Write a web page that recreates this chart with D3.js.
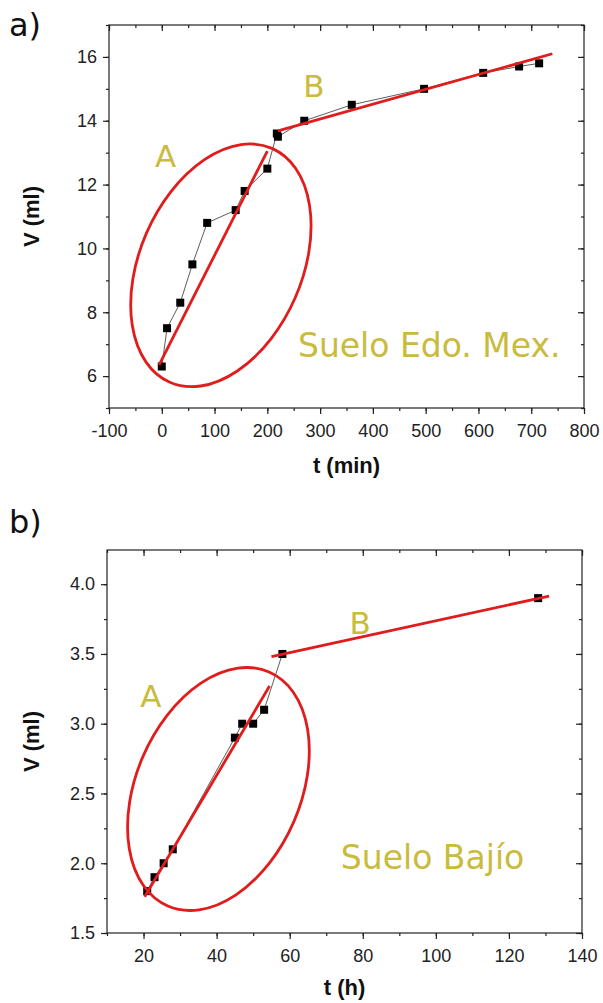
<!DOCTYPE html>
<html><head><meta charset="utf-8">
<script src="https://cdn.jsdelivr.net/npm/d3@7"></script>
<style>
body{margin:0;background:#fff;}
svg{display:block;}
</style></head>
<body>
<script>
// ---- Panel a: Suelo Edo. Mex. ----
const tMinA = [0, 10, 35, 58, 86, 140, 157, 200, 218, 220, 270, 360, 497, 609, 677, 715];
const volA  = [6.3, 7.5, 8.3, 9.5, 10.8, 11.2, 11.8, 12.5, 13.6, 13.5, 14.0, 14.5, 15.0, 15.5, 15.7, 15.8];
const fitA_A = [[-5, 6.35], [200, 13.05]];
const fitB_A = [[220, 13.68], [740, 16.1]];
const xTicksA = [-100, 0, 100, 200, 300, 400, 500, 600, 700, 800];
const yTicksA = [6, 8, 10, 12, 14, 16];

// ---- Panel b: Suelo Bajío ----
const tHB  = [21, 23, 25.5, 28, 45, 47, 50, 53, 58, 128];
const volB = [1.8, 1.9, 2.0, 2.1, 2.9, 3.0, 3.0, 3.1, 3.5, 3.9];
const fitA_B = [[20.3, 1.76], [54.5, 3.27]];
const fitB_B = [[55, 3.48], [131, 3.915]];
const xTicksB = [20, 40, 60, 80, 100, 120, 140];
const yTicksB = [1.5, 2.0, 2.5, 3.0, 3.5, 4.0];

const W = 603, H = 1003;
const RED = "#e01c1c", OLIVE = "#c9bb3c", AXC = "#222";
const svg = d3.select("body").append("svg").attr("width", W).attr("height", H);

function panel(cfg) {
  const x = d3.scaleLinear().domain(cfg.xDom).range([cfg.left, cfg.right]);
  const y = d3.scaleLinear().domain(cfg.yDom).range([cfg.bottom, cfg.top]);
  const g = svg.append("g");

  g.append("rect").attr("x", cfg.left).attr("y", cfg.top)
    .attr("width", cfg.right - cfg.left).attr("height", cfg.bottom - cfg.top)
    .attr("fill", "none").attr("stroke", AXC).attr("stroke-width", 1.2);

  const tickFont = g => g.selectAll("text").attr("font-family", "Liberation Sans, Arial, sans-serif")
      .attr("font-size", 18).attr("fill", "#222");
  const styleAx = g => { g.select(".domain").remove(); g.selectAll("line").attr("stroke", AXC).attr("stroke-width", 1.2); };

  const minorX = d3.range(cfg.xDom[0], cfg.xDom[1] + 1e-9, cfg.xMinor);
  const minorY = d3.range(cfg.yMinorStart, cfg.yDom[1] + 1e-9, cfg.yMinor);

  g.append("g").attr("transform", `translate(0,${cfg.bottom})`)
    .call(d3.axisBottom(x).tickValues(minorX).tickSize(3).tickFormat(""))
    .call(styleAx);
  g.append("g").attr("transform", `translate(0,${cfg.bottom})`)
    .call(d3.axisBottom(x).tickValues(cfg.xTicks).tickSize(6).tickPadding(10).tickFormat(cfg.fmtX))
    .call(styleAx).call(tickFont);
  g.append("g").attr("transform", `translate(0,${cfg.top})`)
    .call(d3.axisTop(x).tickValues(minorX).tickSize(-3).tickFormat(""))
    .call(styleAx);
  g.append("g").attr("transform", `translate(0,${cfg.top})`)
    .call(d3.axisTop(x).tickValues(cfg.xTicks).tickSize(-6).tickFormat(""))
    .call(styleAx);
  g.append("g").attr("transform", `translate(${cfg.left},0)`)
    .call(d3.axisLeft(y).tickValues(minorY).tickSize(3).tickFormat(""))
    .call(styleAx);
  g.append("g").attr("transform", `translate(${cfg.left},0)`)
    .call(d3.axisLeft(y).tickValues(cfg.yTicks).tickSize(6).tickPadding(6).tickFormat(cfg.fmtY))
    .call(styleAx).call(tickFont);
  g.append("g").attr("transform", `translate(${cfg.right},0)`)
    .call(d3.axisRight(y).tickValues(minorY).tickSize(-3).tickFormat(""))
    .call(styleAx);
  g.append("g").attr("transform", `translate(${cfg.right},0)`)
    .call(d3.axisRight(y).tickValues(cfg.yTicks).tickSize(-6).tickFormat(""))
    .call(styleAx);

  g.append("text").attr("x", (cfg.left + cfg.right) / 2).attr("y", cfg.xTitleY)
    .attr("text-anchor", "middle").attr("font-family", "Liberation Sans, Arial, sans-serif")
    .attr("font-weight", "bold").attr("font-size", 22).attr("fill", "#111").text(cfg.xTitle);
  g.append("text").attr("transform", `translate(${cfg.yTitleX},${(cfg.top + cfg.bottom) / 2}) rotate(-90)`)
    .attr("text-anchor", "middle").attr("font-family", "Liberation Sans, Arial, sans-serif")
    .attr("font-weight", "bold").attr("font-size", 22).attr("fill", "#111").text(cfg.yTitle);

  g.append("text").attr("x", 9).attr("y", cfg.letterY)
    .attr("font-family", "DejaVu Sans, sans-serif").attr("font-size", 32).attr("fill", "#111")
    .text(cfg.letter);

  const pts = cfg.xs.map((d, i) => [d, cfg.ys[i]]);
  g.append("path").datum(pts)
    .attr("d", d3.line().x(d => x(d[0])).y(d => y(d[1])))
    .attr("fill", "none").attr("stroke", "#333").attr("stroke-width", 0.8);
  g.selectAll("rect.pt").data(pts).join("rect").attr("class", "pt")
    .attr("x", d => x(d[0]) - 4).attr("y", d => y(d[1]) - 4)
    .attr("width", 8).attr("height", 8).attr("fill", "#000");

  g.append("ellipse")
    .attr("transform", `translate(${x(cfg.ell.cx)},${y(cfg.ell.cy)}) rotate(${cfg.ell.rot})`)
    .attr("rx", cfg.ell.rx).attr("ry", cfg.ell.ry)
    .attr("fill", "none").attr("stroke", RED).attr("stroke-width", 2.8);

  [cfg.fitA, cfg.fitB].forEach(f => {
    g.append("line").attr("x1", x(f[0][0])).attr("y1", y(f[0][1]))
      .attr("x2", x(f[1][0])).attr("y2", y(f[1][1]))
      .attr("stroke", RED).attr("stroke-width", 2.8);
  });

  cfg.notes.forEach(n => {
    g.append("text").attr("x", x(n.x)).attr("y", y(n.y))
      .attr("font-family", "DejaVu Sans, sans-serif").attr("font-size", n.size)
      .attr("fill", OLIVE).text(n.t);
  });
}

panel({
  left: 109, right: 584, top: 25, bottom: 408,
  xDom: [-100, 800], yDom: [5, 17], xMinor: 50, yMinor: 1, yMinorStart: 5,
  xTicks: xTicksA, yTicks: yTicksA, fmtX: d => String(d), fmtY: d => String(d),
  xTitle: "t (min)", yTitle: "V (ml)", xTitleY: 473, yTitleX: 39,
  letter: "a)", letterY: 36,
  xs: tMinA, ys: volA, fitA: fitA_A, fitB: fitB_A,
  ell: {cx: 112, cy: 9.47, rx: 127.6, ry: 81.1, rot: -66.4},
  notes: [
    {t: "A", x: -13, y: 12.55, size: 31},
    {t: "B", x: 268, y: 14.75, size: 31},
    {t: "Suelo Edo. Mex.", x: 258, y: 6.61, size: 33}
  ]
});

panel({
  left: 107, right: 582, top: 550, bottom: 933,
  xDom: [10, 140], yDom: [1.5, 4.245], xMinor: 10, yMinor: 0.25, yMinorStart: 1.5,
  xTicks: xTicksB, yTicks: yTicksB, fmtX: d => String(d), fmtY: d3.format(".1f"),
  xTitle: "t (h)", yTitle: "V (ml)", xTitleY: 995, yTitleX: 39,
  letter: "b)", letterY: 533,
  xs: tHB, ys: volB, fitA: fitA_B, fitB: fitB_B,
  ell: {cx: 40.5, cy: 2.532, rx: 127.5, ry: 82.2, rot: -66.6},
  notes: [
    {t: "A", x: 19.1, y: 3.12, size: 31},
    {t: "B", x: 76.4, y: 3.642, size: 31},
    {t: "Suelo Bajío", x: 74.0, y: 1.958, size: 33}
  ]
});
</script>
</body></html>
